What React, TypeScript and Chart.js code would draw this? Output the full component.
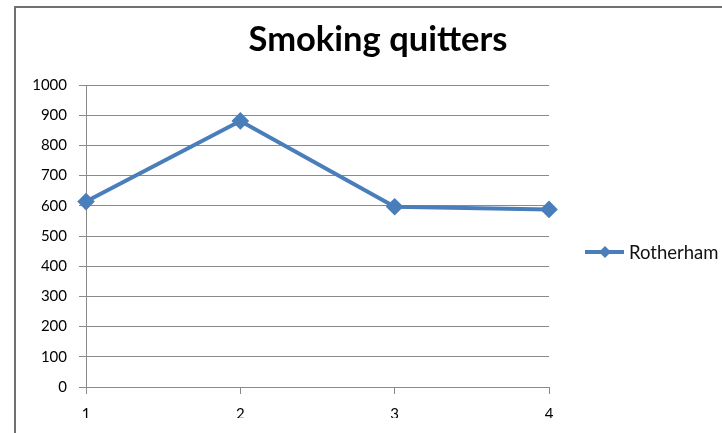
import React, { useEffect, useRef } from "react";
import { Chart, registerables } from "chart.js";

Chart.register(...registerables);

const titleText = "Smoking quitters";
const categories = ["1", "2", "3", "4"];
const seriesName = "Rotherham";
const seriesValues = [614, 881, 597, 588];
const yTicks = [0, 100, 200, 300, 400, 500, 600, 700, 800, 900, 1000];

const LINE_COLOR = "#4a7ebb";
const GRID_COLOR = "#8a8a8a";

const decorPlugin = {
  id: "decor",
  afterDraw(chart: any) {
    const ctx = chart.ctx;
    ctx.save();
    // title
    ctx.fillStyle = "#000";
    ctx.font = "bold 34.5px Lato";
    ctx.textAlign = "center";
    ctx.textBaseline = "alphabetic";
    ctx.fillText(titleText, 378, 51);
    // legend
    const ds = chart.data.datasets[0];
    const ly = 252;
    ctx.strokeStyle = LINE_COLOR;
    ctx.lineWidth = 4;
    ctx.lineCap = "butt";
    ctx.beginPath();
    ctx.moveTo(585, ly);
    ctx.lineTo(624, ly);
    ctx.stroke();
    ctx.fillStyle = LINE_COLOR;
    ctx.beginPath();
    const cx = 605, r = 6;
    ctx.moveTo(cx, ly - r);
    ctx.lineTo(cx + r, ly);
    ctx.lineTo(cx, ly + r);
    ctx.lineTo(cx - r, ly);
    ctx.closePath();
    ctx.fill();
    ctx.fillStyle = "#111";
    ctx.font = "18.5px Lato";
    ctx.textAlign = "left";
    ctx.textBaseline = "middle";
    ctx.fillText(ds.label, 629, ly + 1);
    ctx.restore();
  },
};

export default function App() {
  const ref = useRef<HTMLCanvasElement | null>(null);
  useEffect(() => {
    if (!ref.current) return;
    const chart = new Chart(ref.current, {
      type: "line",
      data: {
        labels: categories,
        datasets: [
          {
            label: seriesName,
            data: seriesValues,
            borderColor: LINE_COLOR,
            backgroundColor: LINE_COLOR,
            borderWidth: 4,
            pointStyle: "rectRot",
            pointRadius: 6,
            pointHoverRadius: 6,
            pointBackgroundColor: LINE_COLOR,
            pointBorderColor: LINE_COLOR,
            tension: 0,
          },
        ],
      },
      options: {
        responsive: false,
        animation: false,
        layout: { padding: { left: 0, top: 85, right: 173, bottom: 15 } },
        plugins: {
          legend: { display: false },
          title: { display: false },
          tooltip: { enabled: false },
        },
        scales: {
          x: {
            type: "category",
            offset: false,
            grid: {
              drawOnChartArea: false,
              drawTicks: true,
              tickLength: 7,
              color: GRID_COLOR,
            },
            border: { color: GRID_COLOR, width: 1 },
            ticks: {
              color: "#000",
              font: { family: "Lato", size: 15 },
              padding: 11,
              maxRotation: 0,
            },
            afterFit: (scale: any) => {
              scale.height = 31;
            },
          },
          y: {
            min: 0,
            max: 1000,
            afterBuildTicks: (scale: any) => {
              scale.ticks = yTicks.map((v) => ({ value: v }));
            },
            grid: {
              color: GRID_COLOR,
              tickLength: 7,
              drawTicks: true,
            },
            border: { color: GRID_COLOR, width: 1 },
            ticks: {
              color: "#000",
              font: { family: "Lato", size: 15 },
              padding: 12,
              callback: (v: any) => String(v),
            },
            afterFit: (scale: any) => {
              scale.width = 86;
            },
          },
        },
      },
      plugins: [decorPlugin],
    });
    return () => chart.destroy();
  }, []);

  return (
    <div
      style={{
        position: "fixed",
        left: 0,
        top: 0,
        width: 722,
        height: 433,
        overflow: "hidden",
        background: "#fff",
      }}
    >
      <div
        style={{
          position: "absolute",
          left: 14,
          top: 6,
          width: 740,
          height: 460,
          border: "2px solid #707070",
          boxSizing: "border-box",
        }}
      />
      <canvas
        ref={ref}
        width={722}
        height={433}
        style={{ position: "absolute", left: 0, top: 0, width: 722, height: 433 }}
      />
    </div>
  );
}
